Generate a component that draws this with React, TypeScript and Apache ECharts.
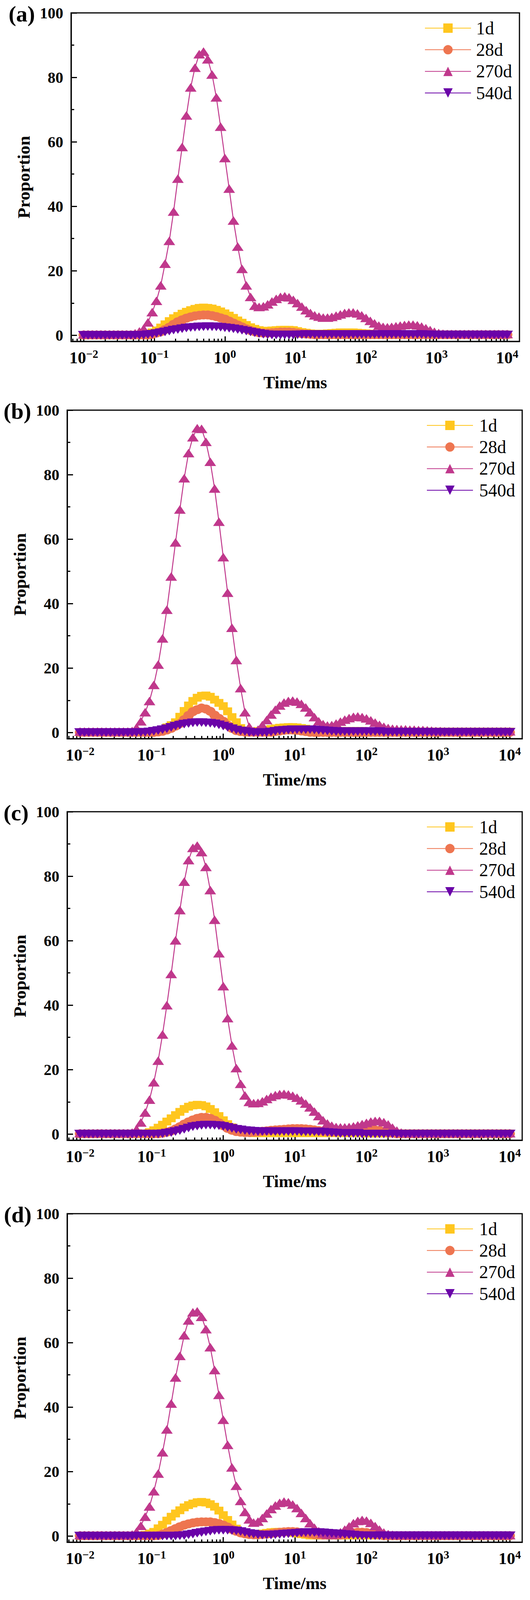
import React, { useEffect, useRef } from 'react';
import * as echarts from 'echarts';

// T2 relaxation times (ms), 100 log-spaced samples
const TIMES = [
  0.01, 0.0115, 0.01322, 0.0152, 0.01748, 0.02009, 0.0231, 0.02656, 0.03054, 0.03511,
  0.04037, 0.04642, 0.05337, 0.06136, 0.07055, 0.08111, 0.09326, 0.1072, 0.1233, 0.1418,
  0.163, 0.1874, 0.2154, 0.2477, 0.2848, 0.3275, 0.3765, 0.4329, 0.4977, 0.5722,
  0.6579, 0.7565, 0.8697, 1, 1.15, 1.322, 1.52, 1.748, 2.009, 2.31,
  2.656, 3.054, 3.511, 4.037, 4.642, 5.337, 6.136, 7.055, 8.111, 9.326,
  10.72, 12.33, 14.18, 16.3, 18.74, 21.54, 24.77, 28.48, 32.75, 37.65,
  43.29, 49.77, 57.22, 65.79, 75.65, 86.97, 100, 115, 132.2, 152,
  174.8, 200.9, 231, 265.6, 305.4, 351.1, 403.7, 464.2, 533.7, 613.6,
  705.5, 811.1, 932.6, 1072, 1233, 1418, 1630, 1874, 2154, 2477,
  2848, 3275, 3765, 4329, 4977, 5722, 6579, 7565, 8697, 10000,
];

// ---------- panel (a) ----------
const A_1D = [
  0.1, 0.1, 0.1, 0.1, 0.1, 0.1, 0.1, 0.1, 0.1, 0.1,
  0.1, 0.1, 0.1, 0.1, 0.1, 0.3, 0.9, 1.5, 2.4, 3.4,
  4.4, 5.3, 6.0, 6.7, 7.3, 7.8, 8.2, 8.5, 8.6, 8.5,
  8.3, 7.9, 7.4, 6.8, 6.1, 5.4, 4.6, 3.9, 3.2, 2.5,
  2.0, 1.6, 1.4, 1.4, 1.5, 1.6, 1.7, 1.7, 1.7, 1.6,
  1.3, 1.0, 0.8, 0.6, 0.5, 0.5, 0.5, 0.6, 0.7, 0.8,
  0.9, 0.9, 0.9, 0.9, 0.8, 0.7, 0.6, 0.5, 0.4, 0.3,
  0.2, 0.2, 0.2, 0.2, 0.2, 0.2, 0.2, 0.2, 0.2, 0.2,
  0.2, 0.2, 0.2, 0.2, 0.2, 0.2, 0.2, 0.2, 0.2, 0.2,
  0.2, 0.2, 0.2, 0.2, 0.2, 0.2, 0.2, 0.2, 0.2, 0.2,
];
const A_28D = [
  0.1, 0.1, 0.1, 0.1, 0.1, 0.1, 0.1, 0.1, 0.1, 0.1,
  0.1, 0.1, 0.1, 0.1, 0.1, 0.1, 0.3, 0.7, 1.1, 1.8,
  2.5, 3.4, 4.2, 4.8, 5.3, 5.7, 6.0, 6.2, 6.3, 6.3,
  6.1, 5.8, 5.4, 5.0, 4.4, 3.8, 3.2, 2.6, 2.0, 1.5,
  1.1, 0.8, 0.7, 0.7, 0.8, 0.9, 1.0, 1.0, 1.0, 0.9,
  0.7, 0.5, 0.4, 0.3, 0.2, 0.2, 0.2, 0.2, 0.2, 0.2,
  0.2, 0.2, 0.2, 0.2, 0.2, 0.2, 0.2, 0.2, 0.2, 0.2,
  0.2, 0.2, 0.2, 0.2, 0.2, 0.2, 0.2, 0.2, 0.2, 0.2,
  0.2, 0.2, 0.2, 0.2, 0.2, 0.2, 0.2, 0.2, 0.2, 0.2,
  0.2, 0.2, 0.2, 0.2, 0.2, 0.2, 0.2, 0.2, 0.2, 0.2,
];
const A_270D = [
  0.3, 0.3, 0.3, 0.3, 0.3, 0.3, 0.3, 0.3, 0.3, 0.3,
  0.3, 0.3, 0.6, 1.2, 2.0, 4.0, 7.2, 10.7, 15.5, 22.2,
  29.3, 38.4, 48.6, 58.4, 68.2, 76.9, 83.0, 87.2, 88.0, 85.6,
  80.9, 73.8, 64.7, 55.0, 45.5, 35.6, 27.5, 20.6, 15.5, 11.9,
  9.2, 8.8, 9.0, 9.6, 10.5, 11.3, 11.9, 12.1, 11.8, 11.0,
  10.0, 8.9, 7.8, 6.9, 6.2, 5.8, 5.5, 5.5, 5.7, 6.1,
  6.5, 6.9, 7.1, 7.1, 6.8, 6.2, 5.4, 4.5, 3.7, 3.0,
  2.6, 2.5, 2.6, 2.8, 3.0, 3.2, 3.3, 3.3, 3.1, 2.7,
  2.2, 1.6, 1.1, 0.7, 0.5, 0.4, 0.4, 0.4, 0.4, 0.4,
  0.4, 0.4, 0.4, 0.4, 0.4, 0.4, 0.4, 0.4, 0.4, 0.4,
];
const A_540D = [
  0, 0, 0, 0, 0, 0, 0, 0, 0, 0,
  0, 0, 0, 0, 0.05, 0.2, 0.35, 0.55, 0.8, 1.05,
  1.3, 1.6, 1.8, 2.05, 2.25, 2.4, 2.5, 2.6, 2.65, 2.7,
  2.65, 2.6, 2.5, 2.35, 2.2, 2.0, 1.8, 1.55, 1.3, 1.05,
  0.8, 0.55, 0.35, 0.2, 0.1, 0.1, 0.1, 0.1, 0.1, 0.1,
  0.15, 0.2, 0.25, 0.25, 0.25, 0.25, 0.25, 0.25, 0.25, 0.25,
  0.25, 0.25, 0.25, 0.25, 0.25, 0.25, 0.25, 0.25, 0.25, 0.25,
  0.25, 0.25, 0.25, 0.25, 0.25, 0.25, 0.25, 0.25, 0.25, 0.25,
  0.2, 0.15, 0.1, 0.1, 0.1, 0.1, 0.1, 0.1, 0.1, 0.1,
  0.1, 0.1, 0.1, 0.1, 0.1, 0.1, 0.1, 0.1, 0.1, 0.1,
];

// ---------- panel (b) ----------
const B_1D = [
  0.1, 0.1, 0.1, 0.1, 0.1, 0.1, 0.1, 0.1, 0.1, 0.1,
  0.1, 0.1, 0.1, 0.1, 0.1, 0.1, 0.1, 0.3, 0.6, 1.0,
  1.6, 2.3, 3.2, 4.9, 6.7, 8.4, 9.8, 10.8, 11.4, 11.5,
  11.1, 10.2, 9.2, 8.2, 6.6, 4.8, 3.2, 1.4, 0.5, 0.3,
  0.3, 0.5, 0.7, 0.9, 1.1, 1.3, 1.5, 1.6, 1.7, 1.7,
  1.6, 1.4, 1.2, 0.9, 0.7, 0.6, 0.5, 0.5, 0.5, 0.5,
  0.5, 0.5, 0.5, 0.5, 0.5, 0.5, 0.4, 0.4, 0.3, 0.3,
  0.3, 0.3, 0.3, 0.3, 0.3, 0.3, 0.3, 0.3, 0.3, 0.3,
  0.3, 0.3, 0.3, 0.3, 0.3, 0.3, 0.3, 0.3, 0.3, 0.3,
  0.3, 0.3, 0.3, 0.3, 0.3, 0.3, 0.3, 0.3, 0.3, 0.3,
];
const B_28D = [
  0.05, 0.05, 0.05, 0.05, 0.05, 0.05, 0.05, 0.05, 0.05, 0.05,
  0.05, 0.05, 0.05, 0.05, 0.05, 0.05, 0.05, 0.05, 0.2, 0.4,
  0.8, 1.3, 2.0, 2.8, 4.0, 5.3, 6.5, 7.1, 7.6, 7.3,
  6.6, 5.4, 4.4, 3.5, 2.3, 1.3, 0.6, 0.3, 0.15, 0.1,
  0.1, 0.1, 0.1, 0.1, 0.1, 0.3, 0.5, 0.7, 0.8, 0.8,
  0.7, 0.5, 0.3, 0.1, 0.05, 0.05, 0.05, 0.05, 0.05, 0.05,
  0.05, 0.05, 0.05, 0.05, 0.05, 0.05, 0.05, 0.05, 0.05, 0.05,
  0.05, 0.05, 0.05, 0.05, 0.05, 0.05, 0.05, 0.05, 0.05, 0.05,
  0.05, 0.05, 0.05, 0.05, 0.05, 0.05, 0.05, 0.05, 0.05, 0.05,
  0.05, 0.05, 0.05, 0.05, 0.05, 0.05, 0.05, 0.05, 0.05, 0.05,
];
const B_270D = [
  0.3, 0.3, 0.3, 0.3, 0.3, 0.3, 0.3, 0.3, 0.3, 0.3,
  0.3, 0.3, 0.5, 1.5, 3.5, 6.3, 9.8, 14.8, 21.1, 29.2,
  38.1, 48.4, 59.0, 69.2, 78.9, 86.7, 91.6, 94.4, 94.2, 90.2,
  84.0, 75.7, 65.4, 54.4, 43.4, 32.5, 22.5, 13.8, 6.3, 1.8,
  0.4, 0.9, 2.3, 3.9, 5.6, 7.1, 8.4, 9.3, 9.8, 9.9,
  9.6, 8.9, 7.8, 6.3, 4.8, 3.5, 2.6, 2.2, 2.3, 2.8,
  3.4, 4.0, 4.5, 4.9, 5.0, 4.8, 4.4, 3.8, 3.1, 2.4,
  1.8, 1.4, 1.2, 1.1, 1.0, 1.0, 0.9, 0.9, 0.8, 0.8,
  0.7, 0.6, 0.5, 0.5, 0.4, 0.4, 0.4, 0.4, 0.4, 0.4,
  0.4, 0.4, 0.4, 0.4, 0.4, 0.4, 0.4, 0.4, 0.4, 0.4,
];
const B_540D = [
  0, 0, 0, 0, 0, 0, 0, 0, 0, 0,
  0, 0, 0, 0, 0, 0.1, 0.2, 0.4, 0.6, 0.9,
  1.2, 1.6, 2.0, 2.3, 2.6, 2.8, 3.0, 3.1, 3.1, 3.0,
  2.9, 2.7, 2.4, 2.0, 1.6, 1.2, 0.8, 0.5, 0.3, 0.1,
  0, 0, 0, 0, 0.2, 0.4, 0.6, 0.7, 0.8, 0.9,
  0.9, 0.9, 0.9, 0.9, 0.8, 0.7, 0.6, 0.5, 0.4, 0.3,
  0.3, 0.3, 0.3, 0.3, 0.3, 0.3, 0.3, 0.3, 0.3, 0.3,
  0.1, 0.1, 0.1, 0.1, 0.1, 0.1, 0.1, 0.1, 0.1, 0.1,
  0.1, 0.1, 0.1, 0.1, 0.1, 0.1, 0.1, 0.1, 0.1, 0.1,
  0.1, 0.1, 0.1, 0.1, 0.1, 0.1, 0.1, 0.1, 0.1, 0.1,
];

// ---------- panel (c) ----------
const C_1D = [
  0.1, 0.1, 0.1, 0.1, 0.1, 0.1, 0.1, 0.1, 0.1, 0.1,
  0.1, 0.1, 0.1, 0.1, 0.1, 0.2, 0.6, 1.2, 2.0, 2.9,
  3.9, 4.9, 5.9, 6.9, 7.8, 8.5, 8.9, 9.1, 9.0, 8.6,
  7.8, 6.8, 5.6, 4.3, 3.1, 2.1, 1.4, 0.9, 0.6, 0.4,
  0.3, 0.3, 0.3, 0.3, 0.3, 0.3, 0.3, 0.3, 0.3, 0.3,
  0.3, 0.3, 0.3, 0.3, 0.3, 0.3, 0.3, 0.3, 0.3, 0.3,
  0.3, 0.3, 0.3, 0.3, 0.3, 0.3, 0.2, 0.2, 0.2, 0.2,
  0.2, 0.2, 0.2, 0.2, 0.2, 0.2, 0.2, 0.2, 0.2, 0.2,
  0.2, 0.2, 0.2, 0.2, 0.2, 0.2, 0.2, 0.2, 0.2, 0.2,
  0.2, 0.2, 0.2, 0.2, 0.2, 0.2, 0.2, 0.2, 0.2, 0.2,
];
const C_28D = [
  0.1, 0.1, 0.1, 0.1, 0.1, 0.1, 0.1, 0.1, 0.1, 0.1,
  0.1, 0.1, 0.1, 0.1, 0.1, 0.1, 0.1, 0.1, 0.1, 0.3,
  0.6, 1.0, 1.6, 2.3, 3.1, 3.8, 4.4, 4.9, 5.2, 5.2,
  4.9, 4.3, 3.5, 2.6, 1.8, 1.2, 0.8, 0.6, 0.5, 0.5,
  0.6, 0.7, 0.9, 1.0, 1.2, 1.3, 1.4, 1.5, 1.6, 1.7,
  1.7, 1.7, 1.6, 1.5, 1.3, 1.1, 0.9, 0.8, 0.7, 0.7,
  0.8, 0.8, 0.9, 1.0, 1.1, 1.2, 1.3, 1.3, 1.3, 1.1,
  0.8, 0.5, 0.3, 0.1, 0.1, 0.1, 0.1, 0.1, 0.1, 0.1,
  0.1, 0.1, 0.1, 0.1, 0.1, 0.1, 0.1, 0.1, 0.1, 0.1,
  0.1, 0.1, 0.1, 0.1, 0.1, 0.1, 0.1, 0.1, 0.1, 0.1,
];
const C_270D = [
  0.3, 0.3, 0.3, 0.3, 0.3, 0.3, 0.3, 0.3, 0.3, 0.3,
  0.3, 0.3, 0.5, 1.5, 3.6, 6.7, 10.7, 16.1, 22.8, 30.9,
  40.0, 49.7, 60.1, 69.5, 78.3, 85.0, 88.8, 89.5, 87.5, 82.9,
  75.7, 66.5, 56.1, 45.9, 36.0, 27.5, 20.5, 15.6, 12.0, 10.0,
  9.6, 9.7, 10.2, 10.9, 11.6, 12.1, 12.4, 12.5, 12.3, 11.9,
  11.3, 10.5, 9.5, 8.3, 7.0, 5.6, 4.3, 3.3, 2.6, 2.2,
  2.1, 2.1, 2.2, 2.4, 2.7, 3.1, 3.5, 3.9, 4.1, 4.1,
  3.7, 3.0, 2.0, 1.1, 0.5, 0.3, 0.3, 0.3, 0.3, 0.3,
  0.3, 0.3, 0.3, 0.3, 0.3, 0.3, 0.3, 0.3, 0.3, 0.3,
  0.3, 0.3, 0.3, 0.3, 0.3, 0.3, 0.3, 0.3, 0.3, 0.3,
];
const C_540D = [
  0, 0, 0, 0, 0, 0, 0, 0, 0, 0,
  0, 0, 0, 0, 0, 0, 0, 0, 0, 0.1,
  0.3, 0.5, 0.8, 1.1, 1.5, 1.9, 2.3, 2.5, 2.7, 2.8,
  2.8, 2.7, 2.6, 2.4, 2.1, 1.8, 1.5, 1.3, 1.1, 1.0,
  0.9, 0.8, 0.8, 0.8, 0.8, 0.8, 0.8, 0.8, 0.8, 0.8,
  0.8, 0.7, 0.7, 0.7, 0.7, 0.7, 0.6, 0.5, 0.4, 0.3,
  0.2, 0.2, 0.2, 0.2, 0.2, 0.05, 0.05, 0.05, 0.05, 0.05,
  0.05, 0.05, 0.05, 0.05, 0.05, 0.05, 0.05, 0.05, 0.05, 0.05,
  0.05, 0.05, 0.05, 0.05, 0.05, 0.05, 0.05, 0.05, 0.05, 0.05,
  0.05, 0.05, 0.05, 0.05, 0.05, 0.05, 0.05, 0.05, 0.05, 0.05,
];

// ---------- panel (d) ----------
const D_1D = [
  0.1, 0.1, 0.1, 0.1, 0.1, 0.1, 0.1, 0.1, 0.1, 0.1,
  0.1, 0.1, 0.1, 0.1, 0.1, 0.4, 0.8, 1.3, 2.4, 3.5,
  4.8, 6.0, 7.0, 8.0, 8.9, 9.6, 10.1, 10.5, 10.6, 10.4,
  9.9, 9.1, 7.9, 6.5, 5.0, 3.6, 2.3, 1.4, 0.8, 0.5,
  0.5, 0.6, 0.8, 1.0, 1.2, 1.3, 1.3, 1.3, 1.2, 1.0,
  0.8, 0.6, 0.4, 0.2, 0.2, 0.2, 0.2, 0.2, 0.2, 0.2,
  0.2, 0.2, 0.2, 0.2, 0.2, 0.2, 0.2, 0.2, 0.2, 0.2,
  0.2, 0.2, 0.2, 0.2, 0.2, 0.2, 0.2, 0.2, 0.2, 0.2,
  0.2, 0.2, 0.2, 0.2, 0.2, 0.2, 0.2, 0.2, 0.2, 0.2,
  0.2, 0.2, 0.2, 0.2, 0.2, 0.2, 0.2, 0.2, 0.2, 0.2,
];
const D_28D = [
  0.1, 0.1, 0.1, 0.1, 0.1, 0.1, 0.1, 0.1, 0.1, 0.1,
  0.1, 0.1, 0.1, 0.1, 0.1, 0.1, 0.1, 0.1, 0.2, 0.6,
  1.1, 1.7, 2.3, 2.9, 3.4, 3.8, 4.1, 4.3, 4.4, 4.4,
  4.4, 4.2, 3.9, 3.4, 2.8, 2.1, 1.5, 1.0, 0.7, 0.5,
  0.4, 0.4, 0.5, 0.6, 0.8, 1.0, 1.2, 1.3, 1.4, 1.4,
  1.3, 1.1, 0.9, 0.7, 0.5, 0.4, 0.3, 0.3, 0.3, 0.3,
  0.3, 0.5, 0.7, 1.0, 1.2, 1.2, 1.1, 0.8, 0.5, 0.3,
  0.1, 0.1, 0.1, 0.1, 0.1, 0.1, 0.1, 0.1, 0.1, 0.1,
  0.1, 0.1, 0.1, 0.1, 0.1, 0.1, 0.1, 0.1, 0.1, 0.1,
  0.1, 0.1, 0.1, 0.1, 0.1, 0.1, 0.1, 0.1, 0.1, 0.1,
];
const D_270D = [
  0.3, 0.3, 0.3, 0.3, 0.3, 0.3, 0.3, 0.3, 0.3, 0.3,
  0.3, 0.3, 0.5, 1.3, 3.2, 6.0, 9.2, 13.9, 19.4, 26.0,
  33.1, 41.1, 49.2, 55.9, 62.3, 66.9, 69.4, 69.7, 68.0, 64.2,
  58.6, 51.5, 43.8, 36.1, 28.3, 21.3, 15.6, 10.9, 7.5, 5.2,
  4.2, 4.5, 5.6, 7.0, 8.4, 9.5, 10.3, 10.7, 10.5, 9.8,
  8.7, 7.2, 5.6, 4.0, 2.6, 1.5, 0.8, 0.5, 0.4, 0.6,
  1.2, 2.0, 3.0, 4.0, 4.7, 5.0, 4.8, 4.1, 3.1, 2.0,
  1.1, 0.6, 0.4, 0.3, 0.3, 0.3, 0.3, 0.3, 0.3, 0.3,
  0.3, 0.3, 0.3, 0.3, 0.3, 0.3, 0.3, 0.3, 0.3, 0.3,
  0.3, 0.3, 0.3, 0.3, 0.3, 0.3, 0.3, 0.3, 0.3, 0.3,
];
const D_540D = [
  0, 0, 0, 0, 0, 0, 0, 0, 0, 0,
  0, 0, 0, 0, 0, 0, 0, 0, 0, 0,
  0, 0, 0, 0.1, 0.2, 0.4, 0.6, 0.9, 1.1, 1.3,
  1.5, 1.7, 1.8, 1.8, 1.8, 1.7, 1.6, 1.4, 1.1, 0.8,
  0.6, 0.4, 0.3, 0.3, 0.3, 0.4, 0.5, 0.6, 0.7, 0.8,
  0.9, 1.0, 1.1, 1.1, 1.1, 1.1, 1.0, 0.9, 0.8, 0.7,
  0.6, 0.5, 0.4, 0.3, 0.2, 0.1, 0.1, 0.1, 0.1, 0.1,
  0.1, 0.1, 0.1, 0.1, 0.1, 0.1, 0.1, 0.1, 0.1, 0.1,
  0.1, 0.1, 0.1, 0.1, 0.1, 0.1, 0.1, 0.1, 0.1, 0.1,
  0.1, 0.1, 0.1, 0.1, 0.1, 0.1, 0.1, 0.1, 0.1, 0.1,
];

const SERIES_NAMES = ['1d', '28d', '270d', '540d'];
const Y_LABELS = [0, 20, 40, 60, 80, 100];
const Y_MINOR = [10, 30, 50, 70, 90];
const X_EXPONENTS = [-2, -1, 0, 1, 2, 3, 4];
const MINOR_MULT = [2, 3, 4, 5, 6, 7, 8, 9];

const X_MIN = -2.18;
const X_MAX = 4.175;
const Y_MIN = -1.9;
const Y_MAX = 100;

const SERIF = "'Liberation Serif', 'Times New Roman', Times, serif";

// The browser viewport is limited to 4096 px in height, so the 4735 px tall
// figure is laid out with its vertical measures scaled to fit.
const PAGE_W = 1357;
const PAGE_H = 4096;
const VS = PAGE_H / 4735;
const PANEL_H = Math.floor(1180 * VS);

const STYLES = [
  { color: '#FFC61E', symbol: 'rect', size: [23, Math.round(23 * VS)] },
  { color: '#EE7550', symbol: 'circle', size: [27, Math.round(27 * VS)] },
  { color: '#C0388C', symbol: 'triangle', size: [30, Math.round(26 * VS)] },
  { color: '#6A03A8', symbol: 'path://M0,0L10,0L5,8.66Z', size: [30, Math.round(26 * VS)] },
];

const PANELS = [
  { tag: '(a)', top: 0, gridLeft: 182, gridRight: 27, tagX: 22, legendLeft: 1082, textPad: 8, data: [A_1D, A_28D, A_270D, A_540D] },
  { tag: '(b)', top: Math.round(1176 * VS), gridLeft: 172, gridRight: 20, tagX: 9, legendLeft: 1087, textPad: 11, data: [B_1D, B_28D, B_270D, B_540D] },
  { tag: '(c)', top: Math.round(2364 * VS), gridLeft: 172, gridRight: 20, tagX: 9, legendLeft: 1087, textPad: 11, data: [C_1D, C_28D, C_270D, C_540D] },
  { tag: '(d)', top: Math.round(3554 * VS), gridLeft: 172, gridRight: 20, tagX: 10, legendLeft: 1087, textPad: 11, data: [D_1D, D_28D, D_270D, D_540D] },
];

function minorXTicks(): number[] {
  const out: number[] = [];
  for (let n = -3; n <= 4; n++) {
    for (const m of MINOR_MULT) {
      const v = Math.log10(m) + n;
      if (v >= X_MIN && v <= X_MAX) out.push(v);
    }
  }
  return out;
}

function buildOption(cfg: any) {
  const tickStyle = { color: '#000', width: 3 };
  const minorX = minorXTicks();
  const gridTop = Math.round(38 * VS);
  const gridH = Math.round(972 * VS);
  const legendFont = 46;
  const legendPitch = 64 * VS;
  return {
    animation: false,
    backgroundColor: '#fff',
    grid: {
      left: cfg.gridLeft,
      right: cfg.gridRight,
      top: gridTop,
      height: gridH,
      show: true,
      borderColor: '#000',
      borderWidth: 3,
      backgroundColor: 'transparent',
      containLabel: false,
      outerBoundsMode: 'none',
    },
    xAxis: [
      {
        type: 'value',
        min: X_MIN,
        max: X_MAX,
        position: 'bottom',
        name: 'Time/ms',
        nameLocation: 'middle',
        nameGap: 83,
        nameTextStyle: { fontFamily: SERIF, fontWeight: 'bold', fontSize: 44, color: '#000' },
        axisLine: { show: true, onZero: false, lineStyle: { color: '#000', width: 3 } },
        axisTick: { show: true, inside: true, length: 13, lineStyle: tickStyle, customValues: X_EXPONENTS },
        axisLabel: {
          show: true,
          margin: 17,
          customValues: X_EXPONENTS,
          formatter: (v: number) => {
            const e = Math.round(v);
            const s = e < 0 ? '\u2212' + String(-e) : String(e);
            return '{b|10}{s|' + s + '}';
          },
          rich: {
            b: { fontFamily: SERIF, fontWeight: 'bold', fontSize: 43, lineHeight: 46, color: '#000', verticalAlign: 'bottom' },
            s: { fontFamily: SERIF, fontWeight: 'bold', fontSize: 29, lineHeight: 20, color: '#000', verticalAlign: 'top' },
          },
        },
        splitLine: { show: false },
      },
      {
        type: 'value',
        min: X_MIN,
        max: X_MAX,
        position: 'bottom',
        axisLine: { show: false, onZero: false },
        axisTick: { show: true, inside: true, length: 7, lineStyle: tickStyle, customValues: minorX },
        axisLabel: { show: false },
        splitLine: { show: false },
      },
    ],
    yAxis: [
      {
        type: 'value',
        min: Y_MIN,
        max: Y_MAX,
        position: 'left',
        name: 'Proportion',
        nameLocation: 'middle',
        nameGap: 99,
        nameTextStyle: { fontFamily: SERIF, fontWeight: 'bold', fontSize: 45, color: '#000' },
        axisLine: { show: true, onZero: false, lineStyle: { color: '#000', width: 3 } },
        axisTick: { show: true, inside: true, length: 15, lineStyle: tickStyle, customValues: Y_LABELS },
        axisLabel: {
          show: true,
          margin: 20,
          customValues: Y_LABELS,
          fontFamily: SERIF,
          fontWeight: 'bold',
          fontSize: 40,
          color: '#000',
        },
        splitLine: { show: false },
      },
      {
        type: 'value',
        min: Y_MIN,
        max: Y_MAX,
        position: 'left',
        axisLine: { show: false, onZero: false },
        axisTick: { show: true, inside: true, length: 8, lineStyle: tickStyle, customValues: Y_MINOR },
        axisLabel: { show: false },
        splitLine: { show: false },
      },
    ],
    legend: {
      orient: 'vertical',
      left: cfg.legendLeft,
      top: Math.round(77 * VS - legendFont / 2),
      itemWidth: 118,
      itemHeight: 30,
      itemGap: legendPitch - legendFont,
      selectedMode: false,
      data: SERIES_NAMES,
      textStyle: { fontFamily: SERIF, fontSize: legendFont, color: '#000', lineHeight: legendFont, padding: [0, 0, 0, cfg.textPad] },
    },
    graphic: [
      {
        type: 'text',
        x: cfg.tagX,
        y: Math.round(40 * VS),
        style: {
          text: cfg.tag,
          fontFamily: SERIF,
          fontWeight: 'bold',
          fontSize: 58,
          fill: '#000',
          align: 'left',
          verticalAlign: 'middle',
        },
      },
    ],
    series: SERIES_NAMES.map((name, si) => ({
      name,
      type: 'line',
      xAxisIndex: 0,
      yAxisIndex: 0,
      data: TIMES.map((t, i) => [Math.log10(t), cfg.data[si][i]]),
      symbol: STYLES[si].symbol,
      symbolSize: STYLES[si].size,
      showSymbol: true,
      showAllSymbol: true,
      itemStyle: { color: STYLES[si].color, borderWidth: 0 },
      lineStyle: { color: STYLES[si].color, width: 2.5 },
      emphasis: { disabled: true },
    })),
  };
}

function Panel({ cfg }: { cfg: any }) {
  const ref = useRef<HTMLDivElement | null>(null);
  useEffect(() => {
    if (!ref.current) return;
    const chart = echarts.init(ref.current, null, { renderer: 'svg' });
    chart.setOption(buildOption(cfg) as any);
    return () => chart.dispose();
  }, [cfg]);
  return (
    <div
      ref={ref}
      style={{ position: 'absolute', left: 0, top: cfg.top, width: PAGE_W, height: PANEL_H }}
    />
  );
}

export default function App() {
  useEffect(() => {
    document.body.style.margin = '0';
    document.body.style.background = '#fff';
  }, []);
  return (
    <div style={{ position: 'relative', width: PAGE_W, height: PAGE_H, background: '#fff', overflow: 'hidden' }}>
      {PANELS.map((p) => (
        <Panel key={p.tag} cfg={p} />
      ))}
    </div>
  );
}
